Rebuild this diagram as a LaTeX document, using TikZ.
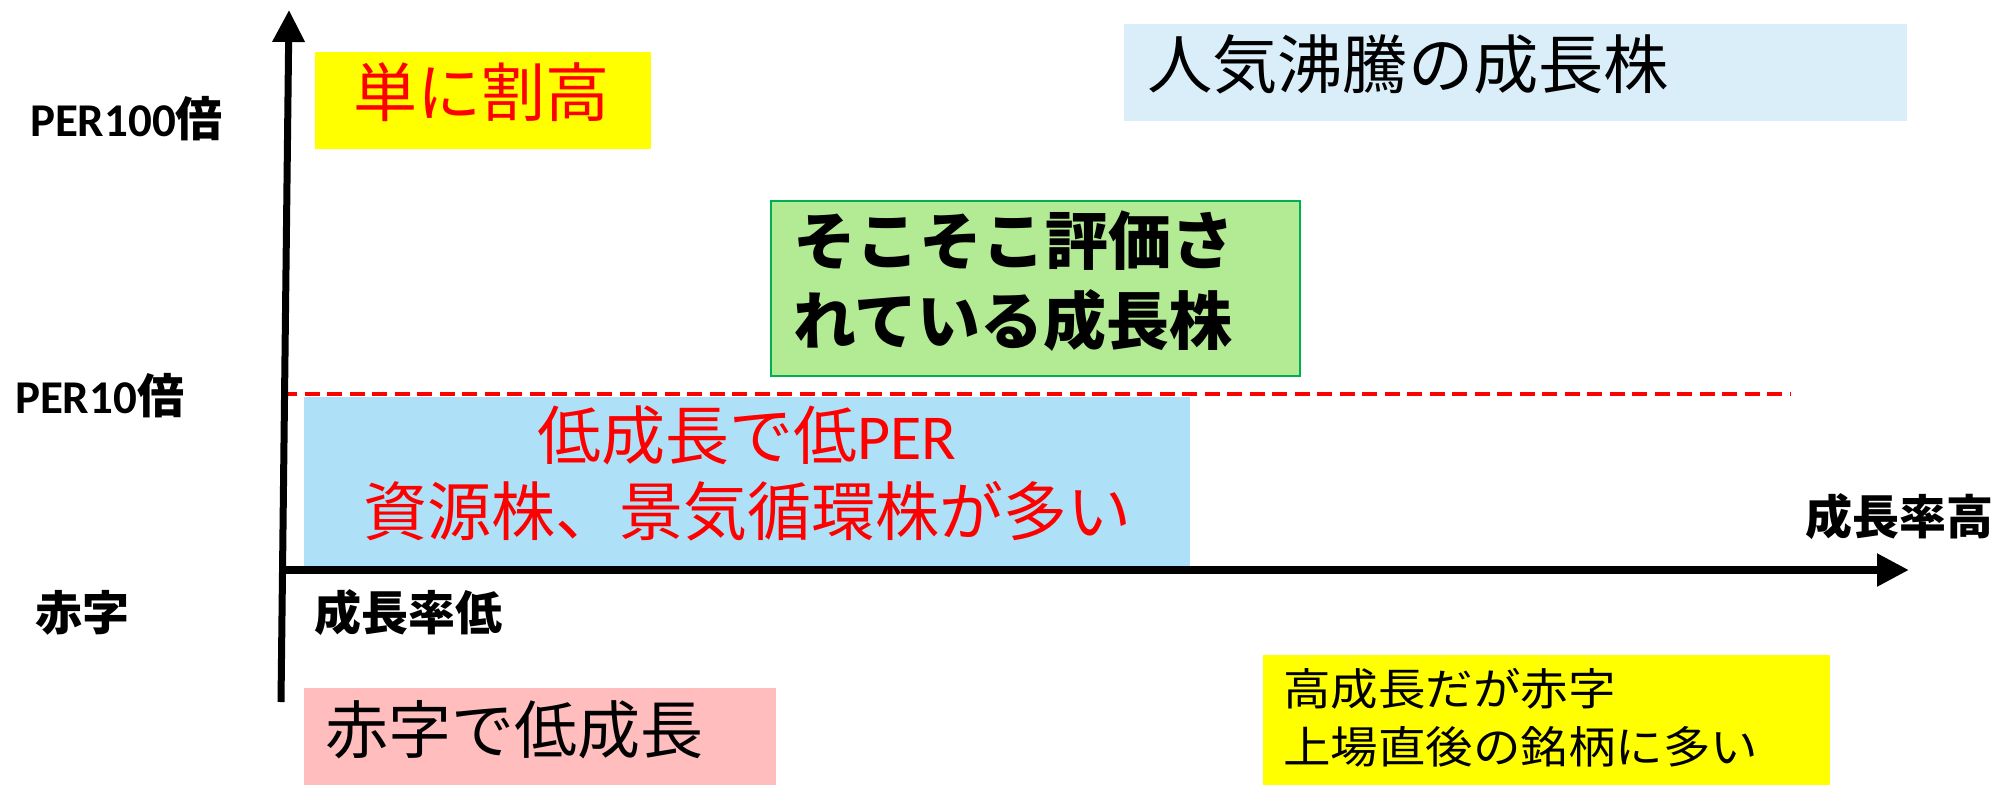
\documentclass[tikz,border=0pt]{standalone}
\usepackage{fontspec}
\usetikzlibrary{arrows.meta}
\newfontfamily\cjk{Noto Sans CJK JP}
\newfontfamily\lat{Carlito}
\definecolor{ylw}{HTML}{FFFF00}
\definecolor{ltblue}{HTML}{DAEEFA}
\definecolor{midblue}{HTML}{AEE0F8}
\definecolor{grnfill}{HTML}{B3EA94}
\definecolor{grnline}{HTML}{00B050}
\definecolor{pinkfill}{HTML}{FFBDBE}
\definecolor{redtxt}{HTML}{FF0000}
\newcommand{\fs}[1]{\fontsize{#1}{#1}\selectfont}
\tikzset{
  txt/.style={inner sep=0pt, outer sep=0pt},
  lbl/.style={txt, anchor=west, font=\cjk\bfseries\fs{47}},
  axisline/.style={line width=#1, -{Triangle[length=32pt,width=31pt]}},
  boxfill/.style={draw=none}
}
\begin{document}
\begin{tikzpicture}[x=1pt,y=-1pt]
\useasboundingbox (0,0) rectangle (1997,785);
% boxes
\fill[ylw] (315,52) rectangle (651,149);
\fill[ltblue] (1124,24) rectangle (1907,121);
\filldraw[fill=grnfill, draw=grnline, line width=2pt] (771,201) rectangle (1300,376);
\fill[midblue] (304,397) rectangle (1190,568);
\fill[pinkfill] (304,688) rectangle (776,785);
\fill[ylw] (1263,655) rectangle (1830,785);
% dashed line
\coordinate (dl) at (282,394);
\coordinate (dr) at (1790,394);
\draw[redtxt, line width=4.5pt, dash pattern=on 15pt off 7.5pt] (dl) -- (dr);
% box texts
\node[txt, text=redtxt, font=\cjk\fs{64}] (t1) at (481,92) {単に割高};
\node[txt, anchor=west, font=\cjk\fs{64}] (t2) at (1147,64) {\scalebox{1.02}[1]{人気沸騰の成長株}};
\node[txt, anchor=west, font=\cjk\bfseries\fs{63}] (t3a) at (793,241) {そこそこ評価さ};
\node[txt, anchor=west, font=\cjk\bfseries\fs{63}] (t3b) at (793,320) {れている成長株};
\node[txt, text=redtxt, font=\cjk\fs{64}] (t4a) at (747,435) {低成長で低{\lat PER}};
\node[txt, text=redtxt, font=\cjk\fs{64}] (t4b) at (747,511) {資源株、景気循環株が多い};
\node[txt, anchor=west, font=\cjk\fs{63}] (t5) at (325,730) {赤字で低成長};
\node[txt, anchor=west, font=\cjk\fs{44}] (t6a) at (1283,689) {\scalebox{1.08}[1]{高成長だが赤字}};
\node[txt, anchor=west, font=\cjk\fs{44}] (t6b) at (1283,747) {\scalebox{1.08}[1]{上場直後の銘柄に多い}};
% axis labels
\node[lbl] (p100) at (30,119) {{\lat\bfseries PER100}倍};
\node[lbl] (p10) at (15,396) {{\lat\bfseries PER10}倍};
\node[lbl] (aka) at (35,613) {赤字};
\node[lbl] (glow) at (314,613) {成長率低};
\node[lbl] (ghigh) at (1805,517) {成長率高};
% axes
\coordinate (vb) at (281,702);
\coordinate (vt) at (289,10);
\coordinate (hl) at (281,570);
\coordinate (hr) at (1909,570);
\draw[axisline=7pt] (vb) -- (vt);
\draw[axisline=8pt] (hl) -- (hr);
\end{tikzpicture}
\end{document}
